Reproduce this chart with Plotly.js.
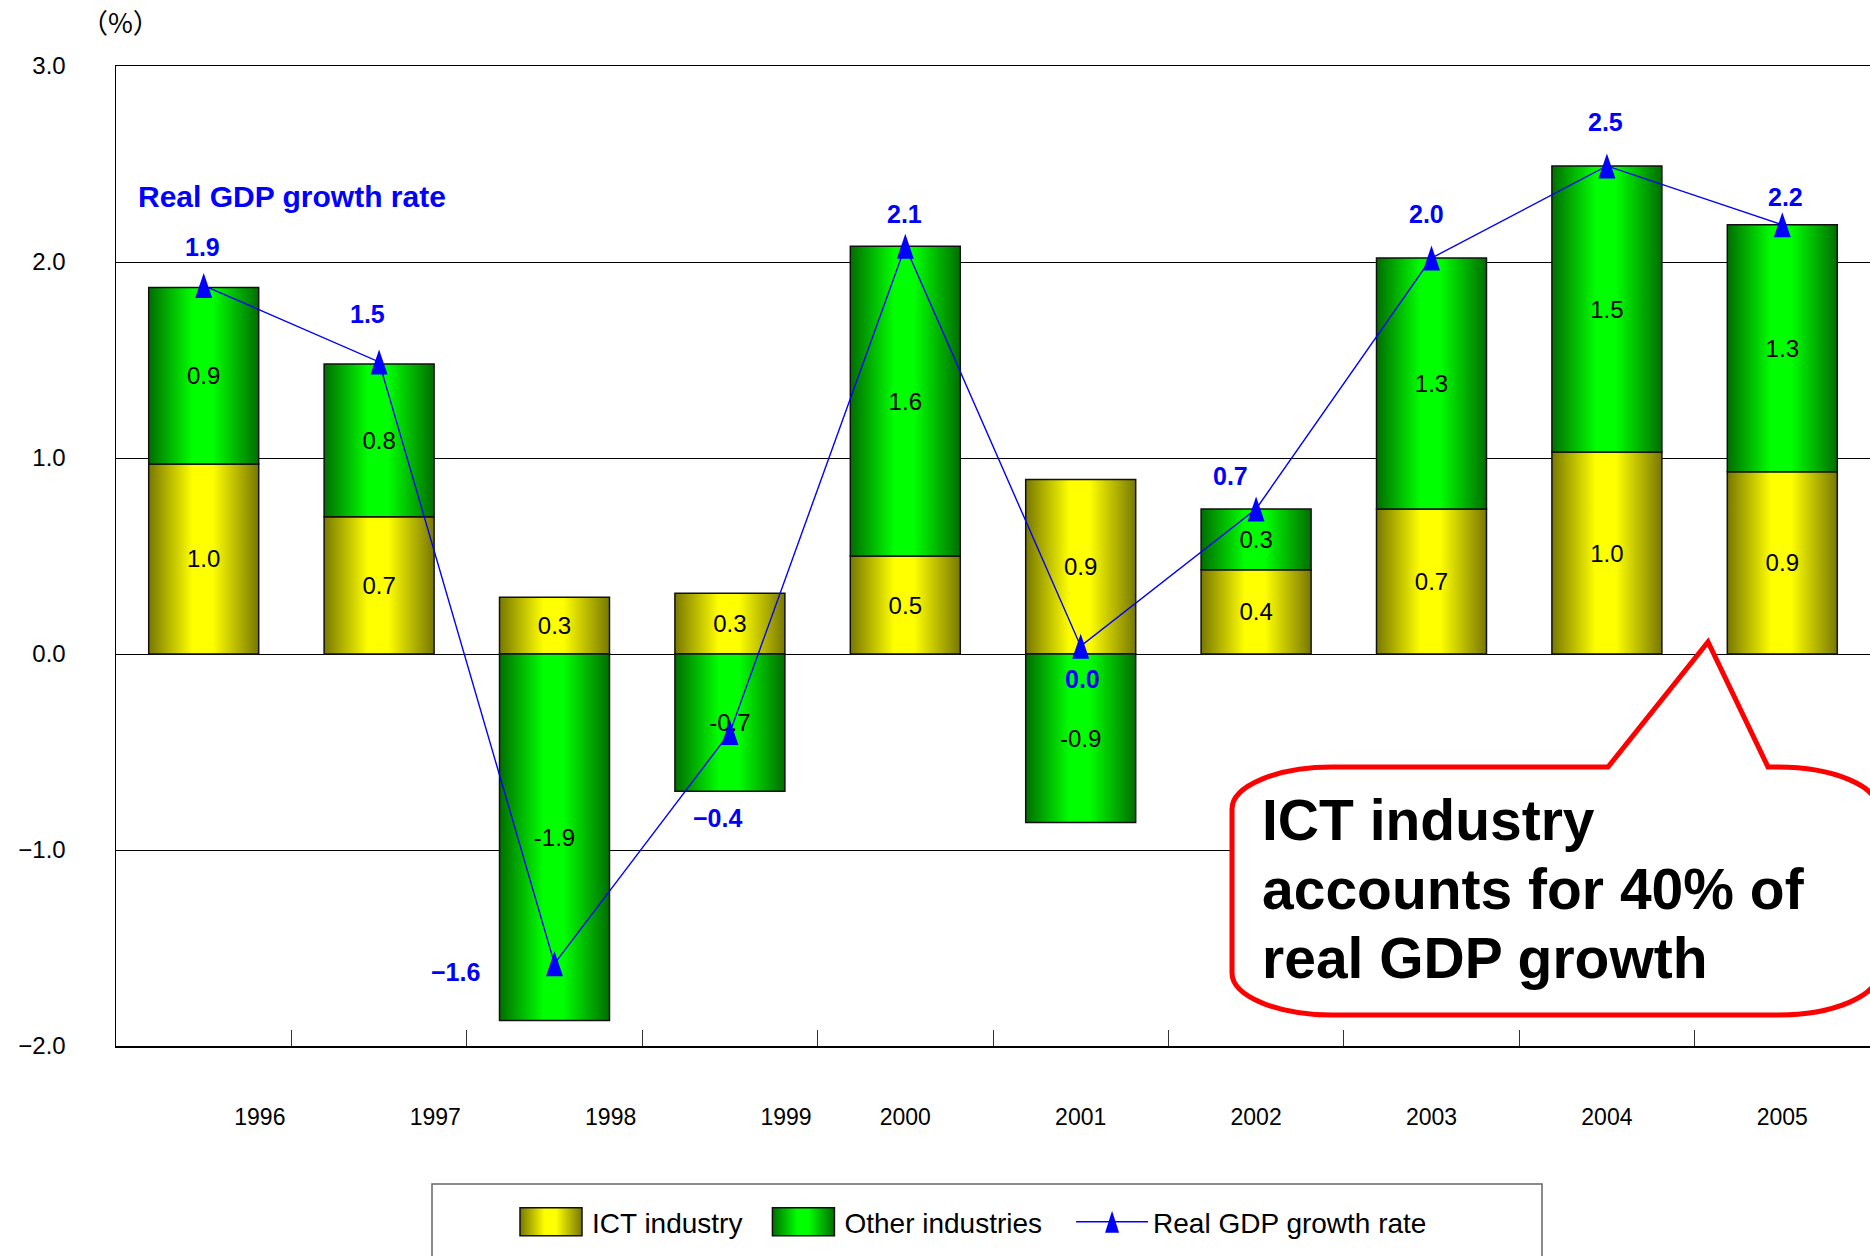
<!DOCTYPE html>
<html>
<head>
<meta charset="utf-8">
<script src="https://cdn.plot.ly/plotly-3.0.1.min.js"></script>
<style>
  html, body { margin: 0; padding: 0; background: #ffffff; }
  #chart { width: 1870px; height: 1256px; }
</style>
</head>
<body>
<div id="chart"></div>
<script>
// ---- data ----
const years = ['1996', '1997', '1998', '1999', '2000', '2001', '2002', '2003', '2004', '2005'];
const ictIndustry = [0.97, 0.70, 0.29, 0.31, 0.50, 0.89, 0.43, 0.74, 1.03, 0.93];
const otherIndustries = [0.90, 0.78, -1.87, -0.70, 1.58, -0.86, 0.31, 1.28, 1.46, 1.26];
const realGdpGrowth = [1.88, 1.49, -1.58, -0.40, 2.08, 0.04, 0.74, 2.02, 2.49, 2.19];
const yAxisTicks = [-2, -1, 0, 1, 2, 3];
const seriesNames = ['ICT industry', 'Other industries', 'Real GDP growth rate'];
const calloutLines = ['ICT industry', 'accounts for 40% of', 'real GDP growth'];
const unitLabel = '（%）';

// ---- layout constants (styling / placement only) ----
const FONT = 'Liberation Sans, Arial, sans-serif';
const PLOT_L = 116, PLOT_R = 1870, PLOT_T = 66, PLOT_B = 1046;
const yearLabelShift = [0.32, 0.32, 0.32, 0.32, 0, 0, 0, 0, 0, 0];
const gdpLabelShift = [[-1, 39], [-12, 48], [-99, -8], [-12, -86], [-1, 32], [2, -33], [-26, 33], [-5, 44], [-1, 44], [3, 28]];
const calloutLineY = [820, 889, 958];
const legendItemShift = [-12, 3, 27];

const xIdx = years.map((_, i) => i);
function px(x) { return (x - PLOT_L) / (PLOT_R - PLOT_L); }
function py(y) { return (PLOT_B - y) / (PLOT_B - PLOT_T); }
function P(x, y) { return px(x).toFixed(5) + ',' + py(y).toFixed(5); }
function fmt(v) { return (v < 0 ? '\u2212' : '') + Math.abs(v).toFixed(1); }

const barText = { family: FONT, size: 24, color: '#000000' };

const traces = [
  {
    type: 'bar', name: seriesNames[0], x: xIdx, y: ictIndustry,
    marker: { color: '#e0e000', line: { color: '#111111', width: 1.5 } },
    texttemplate: '%{y:.1f}', textposition: 'inside', insidetextanchor: 'middle',
    textangle: 0, constraintext: 'none', insidetextfont: barText, textfont: barText,
    hoverinfo: 'skip'
  },
  {
    type: 'bar', name: seriesNames[1], x: xIdx, y: otherIndustries,
    marker: { color: '#00d000', line: { color: '#111111', width: 1.5 } },
    texttemplate: '%{y:.1f}', textposition: 'inside', insidetextanchor: 'middle',
    textangle: 0, constraintext: 'none', insidetextfont: barText, textfont: barText,
    hoverinfo: 'skip'
  },
  {
    type: 'scatter', mode: 'lines+markers', name: seriesNames[2], x: xIdx, y: realGdpGrowth,
    line: { color: '#0000ff', width: 1.4 },
    marker: { symbol: 'triangle-up', size: 18, color: '#0000ff' },
    cliponaxis: false, hoverinfo: 'skip'
  }
];

const annotations = realGdpGrowth.map((v, i) => ({
  x: i, y: v, xref: 'x', yref: 'y', text: '<b>' + fmt(v) + '</b>', showarrow: false,
  xshift: gdpLabelShift[i][0], yshift: gdpLabelShift[i][1],
  font: { family: FONT, size: 25, color: '#0000ff' }
}));
annotations.push({
  xref: 'paper', yref: 'paper', x: px(136), y: py(196), xanchor: 'left', yanchor: 'middle',
  text: '<b>' + seriesNames[2] + '</b>', showarrow: false,
  font: { family: FONT, size: 30, color: '#0000ff' }
});
annotations.push({
  xref: 'paper', yref: 'paper', x: px(120), y: py(21), xanchor: 'center', yanchor: 'middle',
  text: unitLabel, showarrow: false,
  font: { family: 'Noto Sans CJK JP, sans-serif', size: 27, color: '#000000' }
});
calloutLines.forEach(function (line, k) {
  annotations.push({
    xref: 'paper', yref: 'paper', x: px(1261), y: py(calloutLineY[k]), xanchor: 'left', yanchor: 'middle',
    align: 'left', borderpad: 0, text: '<b>' + line + '</b>', showarrow: false,
    font: { family: FONT, size: 57, color: '#000000' }
  });
});

const bubblePath = 'M' + P(1332, 767) + ' L' + P(1608, 767) + ' L' + P(1708, 642) + ' L' + P(1768, 767) +
  ' L' + P(1778, 767) + ' C' + P(1833, 767) + ' ' + P(1878, 786) + ' ' + P(1878, 809) +
  ' L' + P(1878, 973) + ' C' + P(1878, 996) + ' ' + P(1833, 1015) + ' ' + P(1778, 1015) +
  ' L' + P(1332, 1015) + ' C' + P(1277, 1015) + ' ' + P(1232, 996) + ' ' + P(1232, 973) +
  ' L' + P(1232, 809) + ' C' + P(1232, 786) + ' ' + P(1277, 767) + ' ' + P(1332, 767) + ' Z';

const layout = {
  width: 1870, height: 1256,
  margin: { l: PLOT_L, r: 1870 - PLOT_R, t: PLOT_T, b: 1256 - PLOT_B, pad: 0 },
  paper_bgcolor: '#ffffff', plot_bgcolor: '#ffffff',
  font: { family: FONT, size: 22, color: '#000000' },
  barmode: 'relative', bargap: 0.373,
  hovermode: false, showlegend: true,
  xaxis: {
    type: 'linear', range: [-0.5, years.length - 0.5], fixedrange: true,
    tickmode: 'array', tickvals: xIdx.map((i) => i + yearLabelShift[i]), ticktext: years,
    ticks: '', showgrid: false, zeroline: false,
    showline: true, linecolor: '#000000', linewidth: 1.5, mirror: true,
    tickfont: { family: FONT, size: 23, color: '#000000' }, ticklabelstandoff: 50,
    minor: { tickvals: xIdx.slice(0, -1).map((i) => i + 0.5), ticks: 'inside', ticklen: 16, tickcolor: '#333333', tickwidth: 1, showgrid: false }
  },
  yaxis: {
    range: [yAxisTicks[0], yAxisTicks[yAxisTicks.length - 1]], fixedrange: true,
    tickmode: 'array', tickvals: yAxisTicks, tickformat: '.1f',
    ticks: 'inside', ticklen: 10, tickcolor: '#000000',
    showgrid: true, gridcolor: '#000000', gridwidth: 1,
    zeroline: true, zerolinecolor: '#000000', zerolinewidth: 1,
    showline: true, linecolor: '#000000', linewidth: 1.5,
    tickfont: { family: FONT, size: 24, color: '#000000' }, ticklabelstandoff: 44
  },
  legend: {
    orientation: 'h', x: px(522), xanchor: 'left', y: py(1222), yanchor: 'middle',
    bgcolor: 'rgba(0,0,0,0)', borderwidth: 0, itemwidth: 72, traceorder: 'normal',
    font: { family: FONT, size: 28, color: '#000000' }, itemclick: false, itemdoubleclick: false
  },
  shapes: [
    { type: 'path', xref: 'paper', yref: 'paper', path: bubblePath, layer: 'above',
      line: { color: '#ff0000', width: 5 }, fillcolor: '#ffffff' },
    { type: 'rect', xref: 'paper', yref: 'paper', x0: px(432), x1: px(1542), y0: py(1184), y1: py(1275),
      line: { color: '#666666', width: 1.5 }, fillcolor: 'rgba(0,0,0,0)', layer: 'below' }
  ],
  annotations: annotations
};

Plotly.newPlot('chart', traces, layout, { displayModeBar: false, staticPlot: true }).then(function (gd) {
  const NS = 'http://www.w3.org/2000/svg';
  const svg = gd.querySelector('.main-svg');
  let defs = svg.querySelector('defs');
  if (!defs) { defs = document.createElementNS(NS, 'defs'); svg.insertBefore(defs, svg.firstChild); }
  function addGrad(id, stops) {
    const g = document.createElementNS(NS, 'linearGradient');
    g.setAttribute('id', id);
    g.setAttribute('x1', '0'); g.setAttribute('x2', '1'); g.setAttribute('y1', '0'); g.setAttribute('y2', '0');
    stops.forEach(function (s) {
      const st = document.createElementNS(NS, 'stop');
      st.setAttribute('offset', s[0]); st.setAttribute('stop-color', s[1]);
      g.appendChild(st);
    });
    defs.appendChild(g);
  }
  addGrad('gradIct', [[0, '#787800'], [0.4, '#ffff00'], [0.58, '#ffff00'], [1, '#787800']]);
  addGrad('gradOther', [[0, '#006e00'], [0.4, '#00ff00'], [0.58, '#00ff00'], [1, '#006e00']]);
  const fills = ['url(#gradIct)', 'url(#gradOther)'];

  gd.querySelectorAll('.barlayer .trace').forEach(function (t) {
    const d = t.__data__; const idx = d && d[0] && d[0].trace ? d[0].trace.index : null;
    if (idx === 0 || idx === 1) {
      t.querySelectorAll('.point path').forEach(function (p) { p.style.fill = fills[idx]; });
    }
  });
  const tri = 'M0,-12.5L8.5,12.5H-8.5Z';
  gd.querySelectorAll('.scatterlayer .trace .points path.point').forEach(function (p) { p.setAttribute('d', tri); });

  const scroll = gd.querySelector('.legend .scrollbox');
  if (scroll) { scroll.removeAttribute('clip-path'); scroll.style.clipPath = 'none'; }
  gd.querySelectorAll('.legend .traces').forEach(function (t) {
    const d = t.__data__; const idx = d && d[0] && d[0].trace ? d[0].trace.index : null;
    if (idx === 0 || idx === 1) {
      t.querySelectorAll('.legendpoints path').forEach(function (p) {
        p.setAttribute('d', 'M31,14H-31V-14H31Z');
        p.style.fill = fills[idx];
        p.style.stroke = '#111111'; p.style.strokeWidth = '1.5px';
      });
    } else if (idx === 2) {
      t.querySelectorAll('.legendpoints path.scatterpts').forEach(function (p) { p.setAttribute('d', 'M0,-11L7,11H-7Z'); });
    }
    if (idx !== null && legendItemShift[idx] !== undefined) {
      const tr = t.getAttribute('transform') || '';
      const m = /translate\(\s*([-\d.eE]+)[ ,]+([-\d.eE]+)\s*\)/.exec(tr);
      if (m) {
        t.setAttribute('transform', 'translate(' + (parseFloat(m[1]) + legendItemShift[idx]) + ',' + m[2] + ')');
      }
    }
  });
});
</script>
</body>
</html>
